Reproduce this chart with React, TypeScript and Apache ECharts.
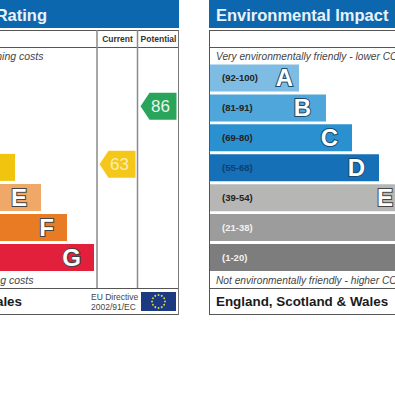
import React, { useEffect, useRef } from "react";
import * as echarts from "echarts";

// Left panel: only the lower rows are inside the picture, bars run in from the left edge
const energyBands = ["D", "E", "F", "G"];
const energyLengths = [15, 41, 67, 94];
const energyColors = ["#f1c40f", "#efa868", "#e87b24", "#e2203c"];
const energyLetters = ["", "E", "F", "G"];
const energyInsets = [14, 14, 13, 13];

// Right panel: the lower rows run out of the picture on the right
const envBands = ["A", "B", "C", "D", "E", "F", "G"];
const envRanges = ["(92-100)", "(81-91)", "(69-80)", "(55-68)", "(39-54)", "(21-38)", "(1-20)"];
const envLengths = [89, 116, 142, 169, 185, 185, 185];
const envColors = ["#7fbce3", "#4fa6da", "#2b90cf", "#1570b8", "#b6b6b4", "#9c9c9c", "#7d7d7d"];
const envRangeColors = ["#222222", "#222222", "#222222", "#0e3f6e", "#222222", "#f2f2f2", "#f2f2f2"];
const envLetters = ["A", "B", "C", "D", "E", "", ""];
const envInsets = [6, 15, 14, 14, 2, 14, 14];
const envOutlines = ["#1b4a70", "#1b4a70", "#1b4a70", "#1b4a70", "#444444", "#444444", "#444444"];

const ratingColumns = ["Current", "Potential"];
const currentScore = 63;
const potentialScore = 86;

const FONT = "'Liberation Sans', Arial, sans-serif";
const NAVY = "#0d67ae";
const pin = "path://M0 50 L25 0 L100 0 L100 100 L25 100 Z";

const line = (x1: number, y1: number, x2: number, y2: number, stroke = "#555555", lineWidth = 1) => ({
  type: "line",
  shape: { x1, y1, x2, y2 },
  style: { stroke, lineWidth },
  silent: true,
});
const text = (t: string, x: number, y: number, font: string, fill: string, align = "left") => ({
  type: "text",
  x,
  y,
  silent: true,
  style: { text: t, font, fill, align, verticalAlign: "middle" },
});

const flagCx = 158.5;
const flagCy = 301.5;
const flagStars = Array.from({ length: 12 }, (_, i) => ({
  type: "circle",
  silent: true,
  shape: {
    cx: flagCx + 6.5 * Math.cos((i * Math.PI) / 6),
    cy: flagCy + 6.5 * Math.sin((i * Math.PI) / 6),
    r: 0.9,
  },
  style: { fill: "#e8d44a" },
}));

const letterLabel = (letter: string, inset: number, outline: string) => ({
  show: letter !== "",
  position: "insideRight",
  distance: inset,
  formatter: letter,
  fontFamily: FONT,
  fontWeight: "bold",
  fontSize: 24,
  color: "#ffffff",
  textBorderColor: outline,
  textBorderWidth: 2,
});

export default function App() {
  const ref = useRef<HTMLDivElement>(null);
  useEffect(() => {
    const chart = echarts.init(ref.current!, null, { renderer: "svg" });
    chart.setOption({
      animation: false,
      backgroundColor: "#ffffff",
      grid: [
        { left: 0, top: 152.4, width: 100, height: 120 },
        { left: 210, top: 63, width: 185, height: 209.5 },
        { left: 97, top: 71, width: 82, height: 252 },
      ],
      xAxis: [
        { gridIndex: 0, type: "value", min: 0, max: 100, show: false },
        { gridIndex: 1, type: "value", min: 0, max: 185, show: false },
        {
          gridIndex: 2,
          type: "category",
          data: ratingColumns,
          position: "top",
          offset: 25,
          axisLine: { show: false },
          axisTick: { show: false },
          axisLabel: {
            margin: 3,
            interval: 0,
            fontFamily: FONT,
            fontWeight: "bold",
            fontSize: 8.5,
            color: "#333333",
          },
        },
      ],
      yAxis: [
        { gridIndex: 0, type: "category", data: energyBands, inverse: true, show: false },
        { gridIndex: 1, type: "category", data: envBands, inverse: true, show: false },
        { gridIndex: 2, type: "value", min: 0, max: 100, show: false },
      ],
      series: [
        {
          type: "bar",
          xAxisIndex: 0,
          yAxisIndex: 0,
          barWidth: 27,
          data: energyLengths.map((v, i) => ({
            value: v,
            itemStyle: { color: energyColors[i] },
            label: letterLabel(energyLetters[i], energyInsets[i], "#444444"),
          })),
        },
        {
          type: "bar",
          xAxisIndex: 1,
          yAxisIndex: 1,
          barWidth: 27,
          data: envLengths.map((v, i) => ({
            value: v,
            itemStyle: { color: envColors[i] },
            label: {
              show: true,
              position: "insideLeft",
              distance: 12,
              formatter: envRanges[i],
              fontFamily: FONT,
              fontWeight: "bold",
              fontSize: 9.5,
              color: envRangeColors[i],
            },
          })),
        },
        {
          type: "bar",
          xAxisIndex: 1,
          yAxisIndex: 1,
          barWidth: 27,
          barGap: "-100%",
          itemStyle: { color: "transparent" },
          data: envLengths.map((v, i) => ({
            value: v,
            label: letterLabel(envLetters[i], envInsets[i], envOutlines[i]),
          })),
        },
        {
          type: "scatter",
          xAxisIndex: 2,
          yAxisIndex: 2,
          symbol: pin,
          symbolSize: [36, 27],
          z: 5,
          label: {
            show: true,
            position: "inside",
            offset: [2, 0],
            fontFamily: FONT,
            fontSize: 17,
            formatter: (p: any) => String(p.value[1]),
          },
          data: [
            { value: ["Current", currentScore], itemStyle: { color: "#f5c71a", opacity: 1 }, label: { color: "#fbeeb4" } },
            { value: ["Potential", potentialScore], itemStyle: { color: "#29a55b", opacity: 1 }, label: { color: "#e8f5ec" } },
          ],
        },
      ],
      graphic: {
        elements: [
          { type: "rect", silent: true, shape: { x: 0, y: 0, width: 179, height: 28 }, style: { fill: NAVY } },
          { type: "rect", silent: true, shape: { x: 209, y: 0, width: 186, height: 28 }, style: { fill: NAVY } },
          line(0, 30.5, 179, 30.5),
          line(0, 47.5, 179, 47.5),
          line(0, 288.5, 179, 288.5),
          line(0, 314.5, 179, 314.5),
          line(178.5, 30, 178.5, 315, "#777777", 1),
          line(97, 30, 97, 288, "#8a8a8a", 1.5),
          line(137.5, 30, 137.5, 288, "#8a8a8a", 1.5),
          line(209.5, 30, 209.5, 315),
          line(209, 30.5, 395, 30.5),
          line(209, 47.5, 395, 47.5),
          line(209, 288.5, 395, 288.5),
          line(209, 314.5, 395, 314.5),
          text("Rating", 47, 14.5, `bold 16.5px ${FONT}`, "#e8f3fb", "right"),
          text("Environmental Impact", 216, 14.5, `bold 16.5px ${FONT}`, "#e8f3fb"),
          text("ning costs", 43.5, 56, `italic 10.5px ${FONT}`, "#444444", "right"),
          text("ng costs", 33.5, 280, `italic 10.5px ${FONT}`, "#444444", "right"),
          text("Very environmentally friendly - lower CO", 216, 56, `italic 10.2px ${FONT}`, "#444444"),
          text("Not environmentally friendly - higher CO", 216, 280, `italic 10.2px ${FONT}`, "#444444"),
          text("ales", 22, 301.5, `bold 13.4px ${FONT}`, "#1a1a1a", "right"),
          text("England, Scotland & Wales", 216, 301.5, `bold 13.4px ${FONT}`, "#1a1a1a"),
          text("EU Directive", 91, 297, `8.5px ${FONT}`, "#444444"),
          text("2002/91/EC", 91, 306.5, `8.5px ${FONT}`, "#444444"),
          { type: "rect", silent: true, shape: { x: 141, y: 292, width: 35, height: 19 }, style: { fill: "#1c3a80" } },
          ...flagStars,
        ],
      },
    });
    return () => chart.dispose();
  }, []);
  return <div ref={ref} style={{ position: "fixed", left: 0, top: 0, width: 395, height: 395 }} />;
}
